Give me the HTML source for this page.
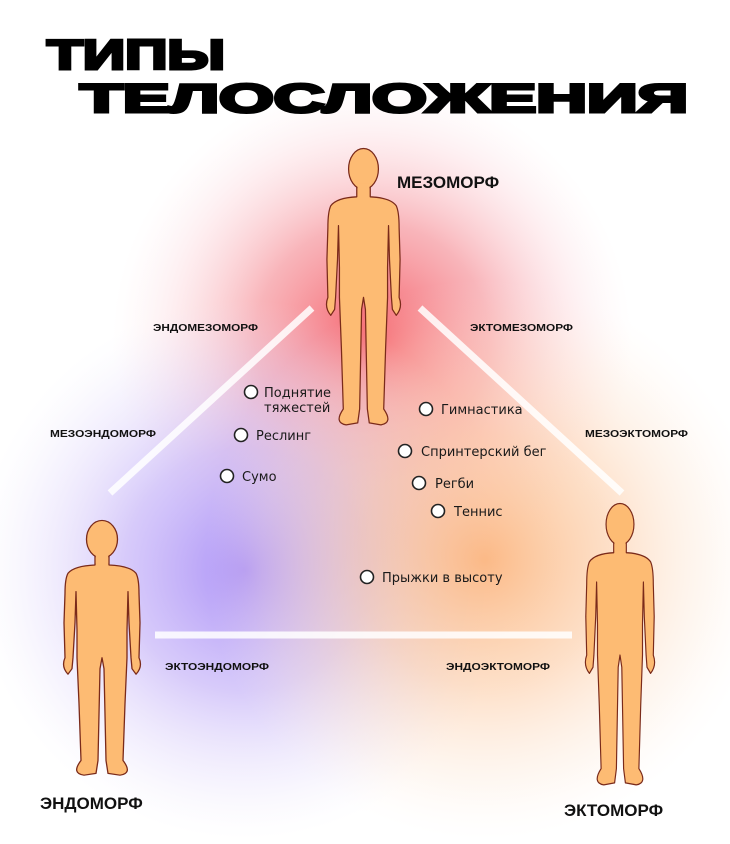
<!DOCTYPE html>
<html><head><meta charset="utf-8"><style>
html,body{margin:0;padding:0;background:#fff;}
svg{display:block;}
</style></head><body>
<svg width="730" height="844" viewBox="0 0 730 844" xmlns="http://www.w3.org/2000/svg">
<defs>
<radialGradient id="gr" cx="372" cy="340" r="260" gradientUnits="userSpaceOnUse">
<stop offset="0" stop-color="#f4555f" stop-opacity="0.95"/>
<stop offset="0.45" stop-color="#f58d95" stop-opacity="0.65"/>
<stop offset="0.8" stop-color="#fbc7cf" stop-opacity="0.25"/>
<stop offset="1" stop-color="#fde0e5" stop-opacity="0"/>
</radialGradient>
<radialGradient id="gp" cx="245" cy="570" r="270" gradientUnits="userSpaceOnUse">
<stop offset="0" stop-color="#a285f6" stop-opacity="0.9"/>
<stop offset="0.45" stop-color="#bda8f7" stop-opacity="0.6"/>
<stop offset="0.8" stop-color="#ddd3fa" stop-opacity="0.25"/>
<stop offset="1" stop-color="#eee9fc" stop-opacity="0"/>
</radialGradient>
<radialGradient id="go" cx="485" cy="560" r="280" gradientUnits="userSpaceOnUse">
<stop offset="0" stop-color="#fbae72" stop-opacity="0.85"/>
<stop offset="0.45" stop-color="#fcc69b" stop-opacity="0.55"/>
<stop offset="0.8" stop-color="#fde2cc" stop-opacity="0.25"/>
<stop offset="1" stop-color="#fef0e6" stop-opacity="0"/>
</radialGradient>
<g id="body">
<path d="M33,38 L33,49 Q12,50 6,58 Q3,64 3,80 L2,112 L3,150 Q-1,160 6,168 L10,162 L11,150 L13,112 L14,78 L15,120 L15,150 L17,200 L19,262 Q9,276 22,278 L34,276 L36,262 L38,162 L40,150 L42,162 L44,262 L46,276 L58,278 Q71,276 61,262 L63,200 L65,150 L65,120 L66,78 L67,112 L69,150 L70,162 L74,168 Q81,160 77,150 L78,112 L77,80 Q77,64 74,58 Q68,50 47,49 L47,38 Z" fill="#fdbb73" stroke="#7a2a1a" stroke-width="1.3" stroke-linejoin="round"/>
<ellipse cx="40" cy="21" rx="15.5" ry="20.5" fill="#fdbb73" stroke="#7a2a1a" stroke-width="1.3"/>
<rect x="33.8" y="36" width="12.4" height="11" fill="#fdbb73"/>
</g>
</defs>
<rect width="730" height="844" fill="#fff"/>
<rect width="730" height="844" fill="url(#gr)"/>
<rect width="730" height="844" fill="url(#gp)"/>
<rect width="730" height="844" fill="url(#go)"/>

<text x="47" y="69" font-family="Liberation Sans, sans-serif" font-weight="bold" font-size="42" textLength="178" lengthAdjust="spacingAndGlyphs" stroke="#000" stroke-width="3" fill="#000">ТИПЫ</text>
<text x="80" y="112" font-family="Liberation Sans, sans-serif" font-weight="bold" font-size="40" textLength="608" lengthAdjust="spacingAndGlyphs" stroke="#000" stroke-width="3" fill="#000">ТЕЛОСЛОЖЕНИЯ</text>

<g stroke="#fff" stroke-opacity="0.85" stroke-width="7" stroke-linecap="butt">
<line x1="312" y1="308" x2="110" y2="493"/>
<line x1="420" y1="308" x2="622" y2="493"/>
<line x1="155" y1="635" x2="572" y2="635"/>
</g>

<use href="#body" transform="translate(325,148) scale(0.9625,0.996)"/>
<use href="#body" transform="translate(62,520) scale(1,0.918)"/>
<use href="#body" transform="translate(584,503) scale(0.9,1.014)"/>

<g font-family="Liberation Sans, sans-serif" font-weight="bold" fill="#111">
<text x="397" y="188" font-size="17">МЕЗОМОРФ</text>
<text x="40" y="809" font-size="17">ЭНДОМОРФ</text>
<text x="564" y="816" font-size="17">ЭКТОМОРФ</text>
<g font-size="10">
<text x="153" y="331" textLength="105" lengthAdjust="spacingAndGlyphs">ЭНДОМЕЗОМОРФ</text>
<text x="470" y="331" textLength="103" lengthAdjust="spacingAndGlyphs">ЭКТОМЕЗОМОРФ</text>
<text x="50" y="437" textLength="106" lengthAdjust="spacingAndGlyphs">МЕЗОЭНДОМОРФ</text>
<text x="585" y="437" textLength="103" lengthAdjust="spacingAndGlyphs">МЕЗОЭКТОМОРФ</text>
<text x="165" y="670" textLength="104" lengthAdjust="spacingAndGlyphs">ЭКТОЭНДОМОРФ</text>
<text x="446" y="670" textLength="104" lengthAdjust="spacingAndGlyphs">ЭНДОЭКТОМОРФ</text>
</g>
</g>

<g fill="#fff" stroke="#222" stroke-width="1.6">
<circle cx="251" cy="392" r="6.5"/>
<circle cx="241" cy="435" r="6.5"/>
<circle cx="227" cy="476" r="6.5"/>
<circle cx="426" cy="409" r="6.5"/>
<circle cx="405" cy="451" r="6.5"/>
<circle cx="419" cy="483" r="6.5"/>
<circle cx="438" cy="511" r="6.5"/>
<circle cx="367" cy="577" r="6.5"/>
</g>
<g font-family="DejaVu Sans, sans-serif" font-size="13" fill="#1a1a1a">
<text x="264" y="397">Поднятие</text>
<text x="264" y="412">тяжестей</text>
<text x="256" y="440">Реслинг</text>
<text x="242" y="481">Сумо</text>
<text x="441" y="414">Гимнастика</text>
<text x="421" y="456">Спринтерский бег</text>
<text x="435" y="488">Регби</text>
<text x="454" y="516">Теннис</text>
<text x="382" y="582">Прыжки в высоту</text>
</g>
</svg>
</body></html>
